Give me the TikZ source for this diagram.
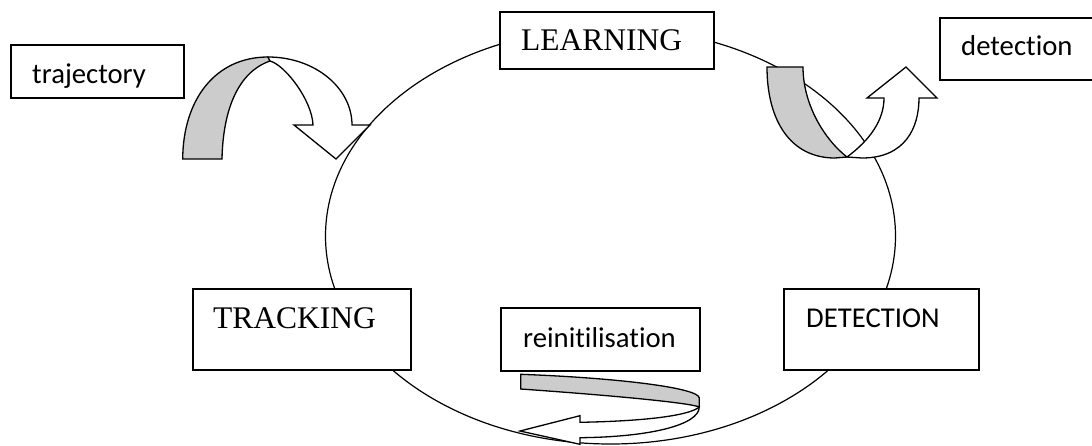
\documentclass[tikz,border=0pt]{standalone}
\usepackage{fontspec}
\setmainfont{Liberation Serif}
\newfontfamily\calibri[Ligatures=NoCommon]{Carlito}
\definecolor{ribbon}{RGB}{204,204,204}
\begin{document}
\begin{tikzpicture}[x=1pt,y=-1pt,
  box/.style={draw=black,fill=white,line width=1.8pt,inner sep=0pt,anchor=north west},
  serif/.style={inner sep=0pt,anchor=base west,font=\fontsize{31.5}{36}\selectfont},
  sans/.style={inner sep=0pt,anchor=base west,font=\calibri\fontsize{28.7}{34}\selectfont},
  back/.style={draw=black,fill=ribbon,line width=1.3pt},
  front/.style={draw=black,fill=white,line width=1.3pt}]
\clip (0,0) rectangle (1092,445);

% the cycle
\draw[line width=1.2pt] (610.5,236) ellipse [x radius=285pt, y radius=208pt];

% ribbon arrow from the trajectory box
\path[back] (182.7,159) .. controls (183,100) and (215,57) .. (268,57)
  -- (270,61) .. controls (238,72) and (223,110) .. (222,159) -- cycle;
\path[front] (268,57) .. controls (315,57) and (352,88) .. (352,125)
  -- (370,125) -- (336,159) -- (294,125) -- (313,125)
  .. controls (312,100) and (285,65) .. (270,61) -- cycle;

% ribbon arrow towards the detection box
\path[back] (767,67) -- (803,67) .. controls (803,105) and (825,140) .. (847,157)
  -- (835,158) .. controls (790,158) and (767,120) .. (767,67) -- cycle;
\path[front] (847,157) -- (862,158) .. controls (905,158) and (919,128) .. (919,98)
  -- (937,98) -- (906,67) -- (867,98) -- (884,98)
  .. controls (884,120) and (870,140) .. (847,157) -- cycle;

% ribbon arrow under the reinitilisation box
\path[back] (520.7,374.3) .. controls (620,378) and (699,388) .. (699.3,398)
  -- (699.3,407) .. controls (690,403) and (620,396) .. (520.7,389) -- cycle;
\path[front] (699.3,407) .. controls (690,415) and (650,421) .. (580,422.3)
  -- (580,415.7) -- (520,431) -- (580,444.3) -- (580,437.7)
  .. controls (650,437) and (699,425) .. (699.3,407) -- cycle;

% boxes
\node[box,minimum width=173pt,minimum height=53pt] (traj) at (10,44) {};
\node[box,minimum width=156pt,minimum height=62pt] (detn) at (939,17) {};
\node[box,minimum width=214pt,minimum height=57pt] (learn) at (499,11) {};
\node[box,minimum width=218pt,minimum height=81pt] (track) at (192,288) {};
\node[box,minimum width=195pt,minimum height=81pt] (detc) at (783,288) {};
\node[box,minimum width=199pt,minimum height=63pt] (reinit) at (500,307) {};

% labels
\node[sans] (trajText) at (32,83) {trajectory};
\node[sans] (detnText) at (961,55) {detection};
\node[serif] (learnText) at (521,50) {LEARNING};
\node[serif] (trackText) at (213,328) {TRACKING};
\node[sans] (detcText) at (806,327) {DETECTION};
\node[sans] (reinitText) at (523,347) {reinitilisation};
\end{tikzpicture}
\end{document}
